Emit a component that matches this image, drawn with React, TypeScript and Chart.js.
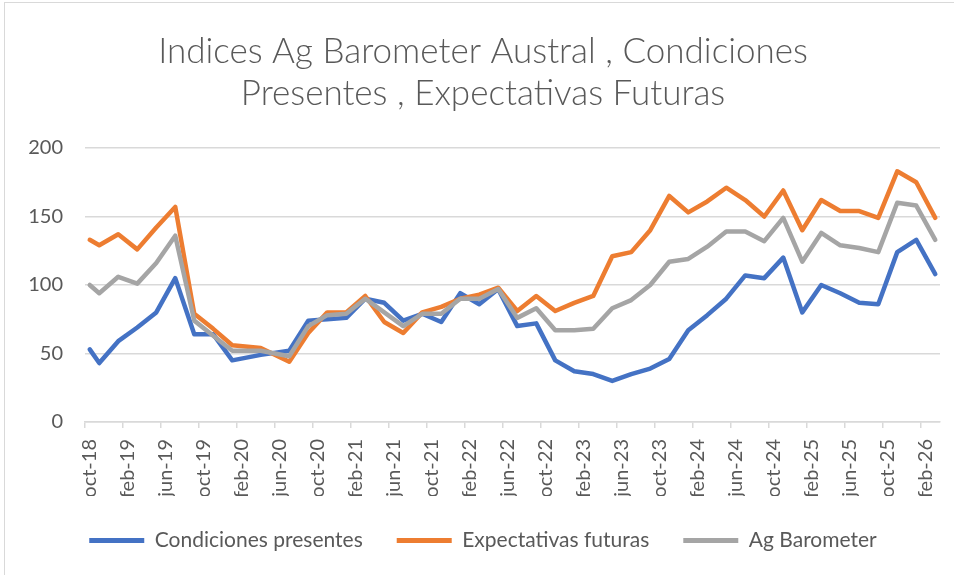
import React, { useEffect, useRef } from "react";
import { Chart, registerables } from "chart.js";

Chart.register(...registerables);

// Axis: monthly categories, oct-18 .. mar-26
const MONTH_ABBR = ["ene", "feb", "mar", "abr", "may", "jun", "jul", "ago", "sep", "oct", "nov", "dic"];
const AXIS_START_YEAR = 2018;
const AXIS_START_MONTH = 9; // October (0-based)
const AXIS_MONTH_COUNT = 90;

// Survey dates (points drawn)
const pointDates = [
  "oct-18", "nov-18", "ene-19", "mar-19", "may-19", "jul-19", "sep-19", "nov-19", "ene-20",
  "abr-20", "jul-20", "sep-20", "nov-20", "ene-21", "mar-21", "may-21", "jul-21", "sep-21",
  "nov-21", "ene-22", "mar-22", "may-22", "jul-22", "sep-22", "nov-22", "ene-23", "mar-23",
  "may-23", "jul-23", "sep-23", "nov-23", "ene-24", "mar-24", "may-24", "jul-24", "sep-24",
  "nov-24", "ene-25", "mar-25", "may-25", "jul-25", "sep-25", "nov-25", "ene-26", "mar-26",
];

const condicionesPresentes = [
  53, 43, 59, 69, 80, 105, 64, 64, 45,
  49, 52, 74, 75, 76, 90, 87, 74, 79,
  73, 94, 86, 97, 70, 72, 45, 37, 35,
  30, 35, 39, 46, 67, 78, 90, 107, 105,
  120, 80, 100, 94, 87, 86, 124, 133, 108,
];

const expectativasFuturas = [
  133, 129, 137, 126, 142, 157, 79, 68, 56,
  54, 44, 65, 80, 80, 92, 73, 65, 80,
  84, 90, 93, 98, 81, 92, 81, 87, 92,
  121, 124, 140, 165, 153, 161, 171, 162, 150,
  169, 140, 162, 154, 154, 149, 183, 175, 149,
];

const agBarometer = [
  100, 94, 106, 101, 116, 136, 74, 63, 52,
  52, 48, 70, 78, 79, 90, 80, 70, 79,
  79, 90, 90, 97, 76, 83, 67, 67, 68,
  83, 89, 100, 117, 119, 128, 139, 139, 132,
  149, 117, 138, 129, 127, 124, 160, 158, 133,
];

const yTicks = [0, 50, 100, 150, 200];

const TITLE_LINES = ["Indices Ag Barometer Austral , Condiciones", "Presentes , Expectativas Futuras"];

function buildAxisLabels(): string[] {
  const out: string[] = [];
  for (let i = 0; i < AXIS_MONTH_COUNT; i++) {
    const m = (AXIS_START_MONTH + i) % 12;
    const y = AXIS_START_YEAR + Math.floor((AXIS_START_MONTH + i) / 12);
    out.push(MONTH_ABBR[m] + "-" + String(y % 100).padStart(2, "0"));
  }
  return out;
}

function placeOnAxis(labels: string[], dates: string[], values: number[]): (number | null)[] {
  const arr: (number | null)[] = labels.map(() => null);
  dates.forEach((d, i) => {
    const idx = labels.indexOf(d);
    if (idx >= 0) arr[idx] = values[i];
  });
  return arr;
}

const FONT = "Lato, 'Open Sans', sans-serif";
const TEXT = "#595959";
const GRID = "#d9d9d9";

export default function App() {
  const ref = useRef<HTMLCanvasElement | null>(null);

  useEffect(() => {
    if (!ref.current) return;
    const labels = buildAxisLabels();
    const mk = (label: string, color: string, vals: number[], order: number) => ({
      label,
      data: placeOnAxis(labels, pointDates, vals),
      borderColor: color,
      backgroundColor: color,
      borderWidth: 4.5,
      pointRadius: 0,
      tension: 0,
      spanGaps: true,
      order,
      borderJoinStyle: "round" as const,
      borderCapStyle: "round" as const,
    });
    const chart = new Chart(ref.current, {
      type: "line",
      data: {
        labels,
        datasets: [
          mk("Condiciones presentes", "#4472C4", condicionesPresentes, 2),
          mk("Expectativas futuras", "#ED7D31", expectativasFuturas, 1),
          mk("Ag Barometer", "#A5A5A5", agBarometer, 0),
        ],
      },
      options: {
        animation: false,
        responsive: false,
        maintainAspectRatio: false,
        layout: { padding: { top: 31, left: 26, right: 14, bottom: 14 } },
        plugins: {
          tooltip: { enabled: false },
          title: {
            display: true,
            text: TITLE_LINES,
            color: TEXT,
            font: { family: FONT, size: 35, weight: "300" as any, lineHeight: 1.2 },
            padding: { top: 0, bottom: 33 },
          },
          legend: {
            position: "bottom",
            labels: {
              color: TEXT,
              font: { family: FONT, size: 21 },
              boxWidth: 55,
              boxHeight: 5,
              padding: 34,
              sort: (a: any, b: any) => a.datasetIndex - b.datasetIndex,
              generateLabels: (c: any) =>
                (Chart as any).defaults.plugins.legend.labels
                  .generateLabels(c)
                  .map((it: any) => ({ ...it, lineWidth: 0 })),
            },
          },
        },
        scales: {
          x: {
            offset: true,
            border: { display: true, color: GRID, width: 1.5 },
            grid: {
              offset: true,
              drawOnChartArea: false,
              drawTicks: true,
              tickLength: 6,
              lineWidth: 1.5,
              color: (ctx: any) => (ctx.index % 4 === 0 && ctx.index < AXIS_MONTH_COUNT ? GRID : "rgba(0,0,0,0)"),
            },
            afterFit: (axis: any) => {
              axis.height = 74;
              axis.paddingLeft = 0;
              axis.paddingRight = 0;
            },
            ticks: {
              autoSkip: false,
              maxRotation: 90,
              minRotation: 90,
              padding: 11,
              color: TEXT,
              font: { family: FONT, size: 20 },
              callback: (_v: any, i: number) => (i % 4 === 0 ? labels[i] : ""),
            },
          },
          y: {
            min: 0,
            max: 200,
            border: { display: false },
            grid: { color: GRID, lineWidth: 1.5, drawTicks: false },
            afterBuildTicks: (axis: any) => {
              axis.ticks = yTicks.map((v) => ({ value: v }));
            },
            afterFit: (axis: any) => {
              axis.width = 59;
            },
            ticks: {
              padding: 22,
              color: TEXT,
              font: { family: FONT, size: 20 },
            },
          },
        },
      },
    });
    return () => chart.destroy();
  }, []);

  return (
    <div style={{ position: "absolute", left: 0, top: 0, width: 954, height: 575, overflow: "hidden", background: "#fff" }}>
      <div
        style={{
          position: "absolute",
          left: 4,
          top: 2,
          width: 980,
          height: 600,
          border: "1.5px solid #d9d9d9",
          boxSizing: "border-box",
        }}
      />
      <canvas ref={ref} width={954} height={575} style={{ position: "absolute", left: 0, top: 0, width: 954, height: 575 }} />
    </div>
  );
}
